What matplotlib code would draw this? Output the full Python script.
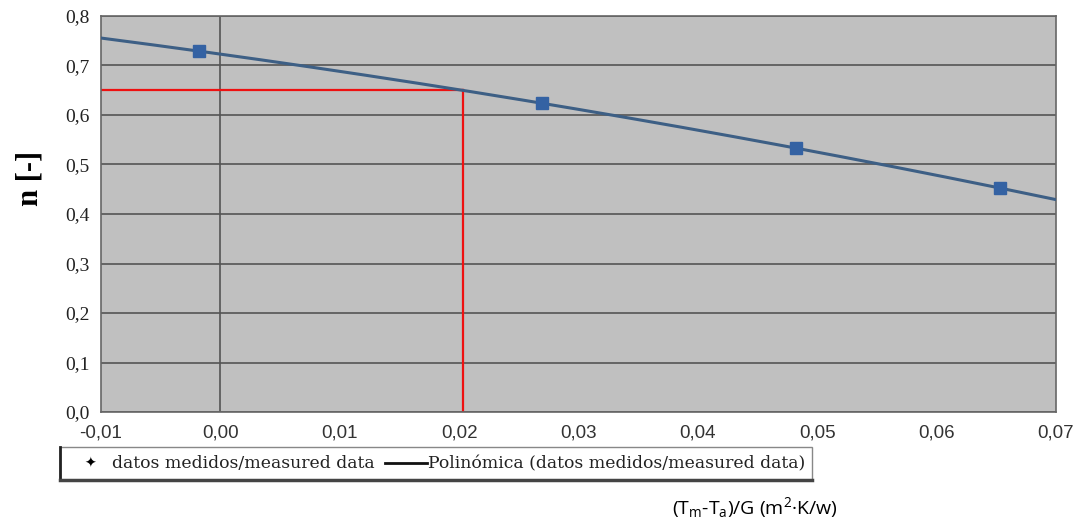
import numpy as np
import matplotlib.pyplot as plt
from matplotlib.lines import Line2D
from matplotlib.patches import Rectangle

plt.rcParams['mathtext.fontset'] = 'custom'
plt.rcParams['mathtext.rm'] = 'Open Sans'
plt.rcParams['mathtext.it'] = 'Open Sans'

# measured efficiency points
x_meas = [-0.0018, 0.0269, 0.0482, 0.0653]
n_meas = [0.729, 0.624, 0.533, 0.4525]

x_ticks = [-0.01, 0.00, 0.01, 0.02, 0.03, 0.04, 0.05, 0.06, 0.07]
y_ticks = [0.0, 0.1, 0.2, 0.3, 0.4, 0.5, 0.6, 0.7, 0.8]
x_read = 0.0203  # reading point marked in red

# second order polynomial through the measured data
coef = np.polyfit(x_meas, n_meas, 2)
x_fit = np.linspace(-0.01, 0.07, 200)
n_fit = np.polyval(coef, x_fit)
n_read = np.polyval(coef, x_read)

fig = plt.figure(figsize=(10.78, 5.26), dpi=100)
ax = fig.add_axes([0.0937, 0.2167, 0.8859, 0.7529])
ax.set_facecolor('#c0c0c0')

for yv in y_ticks:
    ax.axhline(yv, color='#555555', lw=1.2, zorder=1)
ax.axvline(0.0, color='#555555', lw=1.2, zorder=1)

ax.plot([-0.01, x_read], [n_read, n_read], color='#ee1111', lw=1.6, zorder=2)
ax.plot([x_read, x_read], [0, n_read], color='#ee1111', lw=1.6, zorder=2)

ax.plot(x_fit, n_fit, color='#3d5f85', lw=2.2, zorder=3)
ax.plot(x_meas, n_meas, 's', color='#3462a3', ms=9, zorder=4)

ax.set_xlim(-0.01, 0.07)
ax.set_ylim(0, 0.8)
ax.set_xticks(x_ticks)
ax.set_yticks(y_ticks)
ax.set_xticklabels([('%.2f' % v).replace('.', ',') for v in x_ticks],
                   family='Liberation Sans', fontsize=13.5, color='#333333')
ax.set_yticklabels([('%.1f' % v).replace('.', ',') for v in y_ticks],
                   family='Liberation Serif', fontsize=14, color='#222222')
ax.tick_params(length=0, pad=8)
ax.tick_params(axis='x', pad=9)
for s in ax.spines.values():
    s.set_color('#666666')
    s.set_linewidth(1.2)

fig.text(0.028, 0.66, 'n [-]', rotation=90, family='Liberation Serif',
         fontweight='bold', fontsize=22, ha='center', va='center')

# legend box under the axis
fig.patches.append(Rectangle((0.0557, 0.0875), 0.6975, 0.0625, transform=fig.transFigure,
                             facecolor='white', edgecolor='#888888', lw=1))
fig.add_artist(Line2D([0.0557, 0.0557], [0.0875, 0.150], transform=fig.transFigure,
                      color='#222222', lw=2))
fig.add_artist(Line2D([0.0557, 0.7532], [0.0875, 0.0875], transform=fig.transFigure,
                      color='#444444', lw=2.5))
fig.text(0.0835, 0.118, '\u2726', fontsize=10, ha='center', va='center',
         family='DejaVu Sans')
fig.text(0.104, 0.118, 'datos medidos/measured data', family='DejaVu Serif',
         fontsize=12.4, va='center', color='#222222')
fig.add_artist(Line2D([0.357, 0.396], [0.120, 0.120], transform=fig.transFigure,
                      color='#111111', lw=2))
fig.text(0.397, 0.118, 'Polinómica (datos medidos/measured data)',
         family='DejaVu Serif', fontsize=12.4, va='center', color='#222222')

fig.text(0.700, 0.035, r'(T$_{\mathrm{m}}$-T$_{\mathrm{a}}$)/G (m$^{\mathrm{2}}$·K/w)',
         family='Open Sans', fontsize=14, ha='center', va='center')

fig.savefig('out.png', dpi=100)
